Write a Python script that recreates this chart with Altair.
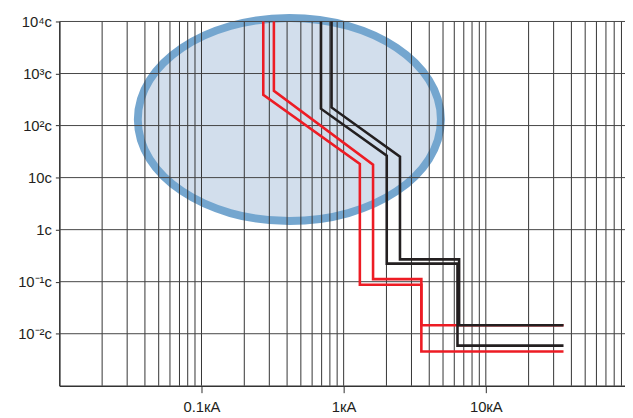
import altair as alt
import pandas as pd

# ---- data (current in kA, time in s) ----
red1_I = [0.272, 0.272, 1.30, 1.30, 3.52, 3.52, 35.2]
red1_t = [1e4, 389, 18.3, 0.087, 0.087, 0.00455, 0.00455]
red2_I = [0.323, 0.323, 1.61, 1.61, 3.52, 3.52, 35.2]
red2_t = [1e4, 464, 17.7, 0.112, 0.112, 0.0145, 0.0145]
black1_I = [0.692, 0.692, 2.01, 2.01, 6.32, 6.32, 35.2]
black1_t = [1e4, 211, 26.3, 0.222, 0.222, 0.0059, 0.0059]
black2_I = [0.822, 0.822, 2.49, 2.49, 6.49, 6.49, 35.2]
black2_t = [1e4, 223, 25.2, 0.268, 0.268, 0.0145, 0.0145]

ellipse_I = [0.415]
ellipse_t = [130.6]

x_tick_values = [0.1, 1, 10]
x_tick_labels = ["0.1кА", "1кА", "10кА"]
y_tick_values = [1e-2, 1e-1, 1, 10, 1e2, 1e3, 1e4]
y_tick_labels = ["10⁻²c", "10⁻¹c", "1c", "10c", "10²c", "10³c", "10⁴c"]

grid_x = [m * 10.0 ** e for e in range(-2, 2) for m in range(1, 10) if m * 10.0 ** e > 0.011]
grid_y = [1e-2, 1e-1, 1, 10, 1e2, 1e3, 1e4]

X_DOMAIN = [0.01, 95.3]
Y_DOMAIN = [1e-3, 1e4]
FONT = "Liberation Sans"


def curve(I, t, name):
    return pd.DataFrame({"I": I, "t": t, "series": name, "k": list(range(len(I)))})


red_df = pd.concat([curve(red1_I, red1_t, "r1"), curve(red2_I, red2_t, "r2")])
black_df = pd.concat([curve(black1_I, black1_t, "b1"), curve(black2_I, black2_t, "b2")])

x_label_expr = "[" + ",".join("'%s'" % s for s in x_tick_labels) + "][round(log(datum.value)/LN10)+1]"
y_label_expr = "[" + ",".join("'%s'" % s for s in y_tick_labels) + "][round(log(datum.value)/LN10)+2]"

x_axis = alt.Axis(values=x_tick_values, labelExpr=x_label_expr, title=None, grid=False,
                  tickSize=7, tickColor="#2b2b2b", tickWidth=1, labelPadding=7,
                  domainColor="#333333", domainWidth=1.6, labelFont=FONT, labelFontSize=15,
                  labelColor="#231f20")
y_axis = alt.Axis(values=y_tick_values, labelExpr=y_label_expr, title=None, grid=False,
                  tickSize=4, tickColor="#2b2b2b", tickWidth=1, labelPadding=4,
                  domainColor="#333333", domainWidth=1.6, labelFont=FONT, labelFontSize=15,
                  labelColor="#231f20")

xs = alt.Scale(type="log", domain=X_DOMAIN, nice=False)
ys = alt.Scale(type="log", domain=Y_DOMAIN, nice=False)

ellipse_path = ("M -1 0 C -1 -0.37 -0.5523 -0.67 0 -0.67 C 0.5523 -0.67 1 -0.37 1 0 "
                "C 1 0.37 0.5523 0.67 0 0.67 C -0.5523 0.67 -1 0.37 -1 0 Z")

ellipse = alt.Chart(pd.DataFrame({"I": ellipse_I, "t": ellipse_t})).mark_point(
    shape=ellipse_path, size=94249, fill="#d2deec", fillOpacity=1, stroke="#74a6cf",
    strokeWidth=8, opacity=1, filled=False
).encode(
    x=alt.X("I:Q", scale=xs, axis=x_axis),
    y=alt.Y("t:Q", scale=ys, axis=y_axis),
)

vgrid = alt.Chart(pd.DataFrame({"I": grid_x})).mark_rule(color="#333333", strokeWidth=1).encode(
    x=alt.X("I:Q", scale=xs, axis=x_axis)
)
hgrid = alt.Chart(pd.DataFrame({"t": grid_y})).mark_rule(color="#444444", strokeWidth=1).encode(
    y=alt.Y("t:Q", scale=ys, axis=y_axis)
)

red_lines = alt.Chart(red_df).mark_line(color="#ed1c24", strokeWidth=2.6, strokeJoin="miter").encode(
    x=alt.X("I:Q", scale=xs, axis=x_axis),
    y=alt.Y("t:Q", scale=ys, axis=y_axis),
    detail="series:N",
    order="k:Q",
)
black_lines = alt.Chart(black_df).mark_line(color="#231f20", strokeWidth=2.6, strokeJoin="miter").encode(
    x=alt.X("I:Q", scale=xs, axis=x_axis),
    y=alt.Y("t:Q", scale=ys, axis=y_axis),
    detail="series:N",
    order="k:Q",
)

chart = alt.layer(ellipse, vgrid, hgrid, red_lines, black_lines).properties(
    width=573,
    height=369,
    autosize=alt.AutoSizeParams(type="none"),
    padding={"left": 52, "top": 11, "right": 0, "bottom": 30},
).configure_view(strokeWidth=0)

chart.save("out.html", embed_options={"renderer": "svg", "actions": False})
